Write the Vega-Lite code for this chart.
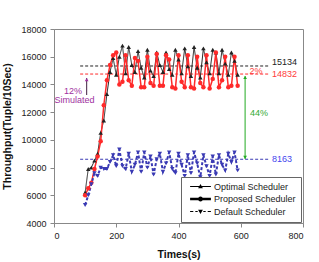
{
  "$schema": "https://vega.github.io/schema/vega-lite/v6.json",
  "width": 249,
  "height": 194,
  "autosize": {"type": "none"},
  "padding": {"left": 54, "top": 29, "right": 16, "bottom": 39},
  "background": "white",
  "config": {
    "view": {"stroke": "#888", "strokeWidth": 1},
    "font": "Liberation Sans",
    "scale": {"zero": false},
    "axis": {
      "grid": false,
      "domainColor": "#888",
      "tickColor": "#888",
      "tickSize": 4,
      "labelFont": "Liberation Sans",
      "labelFontSize": 9,
      "labelColor": "#222",
      "labelPadding": 4,
      "labelOverlap": false,
      "titleFont": "Liberation Sans",
      "titleFontSize": 10.5,
      "titleFontWeight": "bold",
      "titleColor": "#111"
    },
    "axisY": {"tickCount": 8, "format": "d"},
    "axisX": {"tickCount": 5}
  },
  "datasets": {
    "main": [
      {"t": 100, "o": 6200, "p": 6000, "d": 5300},
      {"t": 110, "o": 7900, "p": 6500, "d": 6000},
      {"t": 120, "o": 8000, "p": 6900, "d": 6800},
      {"t": 130, "o": 8500, "p": 7900, "d": 7600},
      {"t": 140, "o": 9000, "p": 8800, "d": 7400},
      {"t": 150, "o": 10500, "p": 9900, "d": 8000},
      {"t": 160, "o": 11400, "p": 12500, "d": 7900},
      {"t": 170, "o": 13300, "p": 14300, "d": 7900},
      {"t": 180, "o": 14900, "p": 15400, "d": 8400},
      {"t": 190, "o": 15900, "p": 16100, "d": 8900},
      {"t": 200, "o": 14700, "p": 16300, "d": 8100},
      {"t": 210, "o": 16000, "p": 14000, "d": 9300},
      {"t": 220, "o": 16800, "p": 14200, "d": 8100},
      {"t": 230, "o": 14800, "p": 16100, "d": 7900},
      {"t": 240, "o": 16700, "p": 14300, "d": 9000},
      {"t": 250, "o": 15400, "p": 13900, "d": 7700},
      {"t": 260, "o": 14900, "p": 15900, "d": 8200},
      {"t": 270, "o": 16400, "p": 15700, "d": 9100},
      {"t": 280, "o": 15200, "p": 13800, "d": 7700},
      {"t": 290, "o": 14500, "p": 13800, "d": 9100},
      {"t": 300, "o": 16500, "p": 16000, "d": 8000},
      {"t": 310, "o": 15000, "p": 14100, "d": 8800},
      {"t": 320, "o": 14600, "p": 13900, "d": 7500},
      {"t": 330, "o": 16300, "p": 16200, "d": 8600},
      {"t": 340, "o": 15400, "p": 13900, "d": 9000},
      {"t": 350, "o": 14900, "p": 13900, "d": 7700},
      {"t": 360, "o": 16300, "p": 16100, "d": 8300},
      {"t": 370, "o": 15100, "p": 15800, "d": 9100},
      {"t": 380, "o": 14700, "p": 13800, "d": 7900},
      {"t": 390, "o": 16500, "p": 13700, "d": 7600},
      {"t": 400, "o": 15800, "p": 16100, "d": 9000},
      {"t": 410, "o": 14800, "p": 14200, "d": 8200},
      {"t": 420, "o": 16600, "p": 13800, "d": 7400},
      {"t": 430, "o": 15300, "p": 16100, "d": 8900},
      {"t": 440, "o": 14600, "p": 13800, "d": 7600},
      {"t": 450, "o": 16700, "p": 13700, "d": 9100},
      {"t": 460, "o": 15200, "p": 16000, "d": 8300},
      {"t": 470, "o": 14500, "p": 14100, "d": 7300},
      {"t": 480, "o": 16600, "p": 13800, "d": 8900},
      {"t": 490, "o": 15600, "p": 16100, "d": 8100},
      {"t": 500, "o": 14800, "p": 13700, "d": 7400},
      {"t": 510, "o": 16500, "p": 14400, "d": 8800},
      {"t": 520, "o": 16300, "p": 16300, "d": 7500},
      {"t": 530, "o": 14800, "p": 13800, "d": 8900},
      {"t": 540, "o": 16500, "p": 14300, "d": 8200},
      {"t": 550, "o": 15500, "p": 16000, "d": 7800},
      {"t": 560, "o": 14700, "p": 13800, "d": 9000},
      {"t": 570, "o": 16300, "p": 13900, "d": 8400},
      {"t": 580, "o": 15700, "p": 16000, "d": 9100},
      {"t": 590, "o": 14700, "p": 13900, "d": 7800}
    ]
  },
  "layer": [
    {
      "data": {"values": [
        {"k": "o", "v": 15330, "t": 84, "t2": 690},
        {"k": "p", "v": 14750, "t": 84, "t2": 690},
        {"k": "d", "v": 8600, "t": 84, "t2": 690}
      ]},
      "mark": {"type": "rule", "strokeDash": [3, 2], "strokeWidth": 1},
      "encoding": {
        "x": {"field": "t", "type": "quantitative", "title": "Times(s)",
              "scale": {"domain": [0, 800], "nice": false},
              "axis": {"values": [0, 200, 400, 600, 800], "tickCount": 5, "titlePadding": 9, "labelOverlap": false}},
        "x2": {"field": "t2"},
        "y": {"field": "v", "type": "quantitative", "title": "Throughput(Tuple/10Sec)",
              "scale": {"domain": [4000, 18000], "nice": false},
              "axis": {"values": [4000, 6000, 8000, 10000, 12000, 14000, 16000, 18000], "tickCount": 8, "format": "d", "titlePadding": 8, "labelOverlap": false}},
        "color": {"field": "k", "type": "nominal", "legend": null,
                  "scale": {"domain": ["o", "p", "d"], "range": ["#222222", "#ff2a2a", "#3a3ab4"]}}
      }
    },
    {
      "data": {"name": "main"},
      "transform": [{"fold": ["o", "p", "d"], "as": ["k", "v"]}],
      "mark": {"type": "line"},
      "encoding": {
        "x": {"field": "t", "type": "quantitative", "title": "Times(s)",
              "scale": {"domain": [0, 800], "nice": false},
              "axis": {"values": [0, 200, 400, 600, 800], "tickCount": 5, "titlePadding": 9, "labelOverlap": false}},
        "y": {"field": "v", "type": "quantitative", "title": "Throughput(Tuple/10Sec)",
              "scale": {"domain": [4000, 18000], "nice": false},
              "axis": {"values": [4000, 6000, 8000, 10000, 12000, 14000, 16000, 18000], "tickCount": 8, "format": "d", "titlePadding": 8, "labelOverlap": false}},
        "color": {"field": "k", "type": "nominal", "legend": null,
                  "scale": {"domain": ["o", "p", "d"], "range": ["#222222", "#ff2a2a", "#3a3ab4"]}},
        "strokeWidth": {"field": "k", "type": "nominal", "legend": null,
                  "scale": {"domain": ["o", "p", "d"], "range": [1, 2, 1]}},
        "strokeDash": {"field": "k", "type": "nominal", "legend": null,
                  "scale": {"domain": ["o", "p", "d"], "range": [[1, 0], [1, 0], [3, 2]]}}
      }
    },
    {
      "data": {"name": "main"},
      "transform": [{"fold": ["o", "p", "d"], "as": ["k", "v"]}],
      "mark": {"type": "point", "filled": true, "size": 20, "opacity": 1},
      "encoding": {
        "x": {"field": "t", "type": "quantitative", "scale": {"domain": [0, 800]}},
        "y": {"field": "v", "type": "quantitative", "scale": {"domain": [4000, 18000]}},
        "color": {"field": "k", "type": "nominal", "legend": null},
        "shape": {"field": "k", "type": "nominal", "legend": null,
                  "scale": {"domain": ["o", "p", "d"], "range": ["triangle-up", "circle", "triangle-down"]}}
      }
    },
    {
      "data": {"values": [{"t": 700, "v": 15619, "label": "15134"}]},
      "mark": {"type": "text", "align": "left", "baseline": "middle", "fontSize": 9, "color": "#222"},
      "encoding": {"x": {"field": "t", "type": "quantitative", "scale": {"domain": [0, 800]}}, "y": {"field": "v", "type": "quantitative", "scale": {"domain": [4000, 18000]}}, "text": {"field": "label"}}
    },
    {
      "data": {"values": [{"t": 700, "v": 14753, "label": "14832"}]},
      "mark": {"type": "text", "align": "left", "baseline": "middle", "fontSize": 9, "color": "#ff3b3b"},
      "encoding": {"x": {"field": "t", "type": "quantitative", "scale": {"domain": [0, 800]}}, "y": {"field": "v", "type": "quantitative", "scale": {"domain": [4000, 18000]}}, "text": {"field": "label"}}
    },
    {
      "data": {"values": [{"t": 649, "v": 14990, "label": "2%"}]},
      "mark": {"type": "text", "align": "center", "baseline": "middle", "fontSize": 9, "color": "#ff3b3b"},
      "encoding": {"x": {"field": "t", "type": "quantitative", "scale": {"domain": [0, 800]}}, "y": {"field": "v", "type": "quantitative", "scale": {"domain": [4000, 18000]}}, "text": {"field": "label"}}
    },
    {
      "data": {"values": [{"t": 700, "v": 8619, "label": "8163"}]},
      "mark": {"type": "text", "align": "left", "baseline": "middle", "fontSize": 9, "color": "#4444ee"},
      "encoding": {"x": {"field": "t", "type": "quantitative", "scale": {"domain": [0, 800]}}, "y": {"field": "v", "type": "quantitative", "scale": {"domain": [4000, 18000]}}, "text": {"field": "label"}}
    },
    {
      "data": {"values": [{"t": 659, "v": 11938, "label": "44%"}]},
      "mark": {"type": "text", "align": "center", "baseline": "middle", "fontSize": 9, "color": "#33aa33"},
      "encoding": {"x": {"field": "t", "type": "quantitative", "scale": {"domain": [0, 800]}}, "y": {"field": "v", "type": "quantitative", "scale": {"domain": [4000, 18000]}}, "text": {"field": "label"}}
    },
    {
      "data": {"values": [{"t": 61, "v": 13540, "label": "12%"}, {"t": 66, "v": 12870, "label": "Simulated"}]},
      "mark": {"type": "text", "align": "center", "baseline": "middle", "fontSize": 9, "color": "#a030a0"},
      "encoding": {"x": {"field": "t", "type": "quantitative", "scale": {"domain": [0, 800]}}, "y": {"field": "v", "type": "quantitative", "scale": {"domain": [4000, 18000]}}, "text": {"field": "label"}}
    },
    {
      "data": {"values": [{"t": 614, "v": 8619, "v2": 14610}]},
      "mark": {"type": "rule", "color": "#22aa22", "strokeWidth": 1},
      "encoding": {"x": {"field": "t", "type": "quantitative", "scale": {"domain": [0, 800]}}, "y": {"field": "v", "type": "quantitative", "scale": {"domain": [4000, 18000]}}, "y2": {"field": "v2"}}
    },
    {
      "data": {"values": [{"t": 614, "v": 14500}]},
      "mark": {"type": "point", "shape": "triangle-up", "filled": true, "size": 14, "color": "#22aa22", "opacity": 1},
      "encoding": {"x": {"field": "t", "type": "quantitative", "scale": {"domain": [0, 800]}}, "y": {"field": "v", "type": "quantitative", "scale": {"domain": [4000, 18000]}}}
    },
    {
      "data": {"values": [{"t": 614, "v": 8730}]},
      "mark": {"type": "point", "shape": "triangle-down", "filled": true, "size": 14, "color": "#22aa22", "opacity": 1},
      "encoding": {"x": {"field": "t", "type": "quantitative", "scale": {"domain": [0, 800]}}, "y": {"field": "v", "type": "quantitative", "scale": {"domain": [4000, 18000]}}}
    },
    {
      "data": {"values": [{"t": 105, "v": 13237, "v2": 14464}]},
      "mark": {"type": "rule", "color": "#402040", "strokeWidth": 1},
      "encoding": {"x": {"field": "t", "type": "quantitative", "scale": {"domain": [0, 800]}}, "y": {"field": "v", "type": "quantitative", "scale": {"domain": [4000, 18000]}}, "y2": {"field": "v2"}}
    },
    {
      "data": {"values": [{"t": 105, "v": 14350}]},
      "mark": {"type": "point", "shape": "triangle-up", "filled": true, "size": 14, "color": "#a030a0", "opacity": 1},
      "encoding": {"x": {"field": "t", "type": "quantitative", "scale": {"domain": [0, 800]}}, "y": {"field": "v", "type": "quantitative", "scale": {"domain": [4000, 18000]}}}
    },
    {
      "data": {"name": "main"},
      "transform": [{"fold": ["o", "p", "d"], "as": ["k", "v"]}, {"filter": "datum.v < 0"}],
      "mark": {"type": "point", "filled": true},
      "encoding": {
        "x": {"field": "t", "type": "quantitative", "scale": {"domain": [0, 800]}},
        "y": {"field": "v", "type": "quantitative", "scale": {"domain": [4000, 18000]}},
        "fill": {"field": "k", "type": "nominal",
                 "scale": {"domain": ["o", "p", "d"], "range": ["#222222", "#ff2a2a", "#3a3ab4"]},
                 "legend": {
                   "orient": "none", "legendX": 127, "legendY": 148, "title": null,
                   "labelExpr": "{'o': 'Optimal Scheduler', 'p': 'Proposed Scheduler', 'd': 'Default Scheduler'}[datum.label]",
                   "labelFont": "Liberation Sans", "labelFontSize": 9, "labelColor": "#222",
                   "symbolSize": 64, "symbolStrokeWidth": 0, "symbolOpacity": 1,
                   "symbolOffset": 10, "labelOffset": 9,
                   "padding": 5, "rowPadding": 2.5,
                   "strokeColor": "#666", "fillColor": "white"
                 }},
        "shape": {"field": "k", "type": "nominal",
                 "scale": {"domain": ["o", "p", "d"], "range": [
                   "M-2.6,-0.13H2.6V0.13H-2.6ZM-0.6,0.45L0,-0.6L0.6,0.45Z",
                   "M-2.6,-0.3H2.6V0.3H-2.6ZM0.62,0A0.62,0.62,0,1,1,-0.62,0A0.62,0.62,0,1,1,0.62,0Z",
                   "M-2.6,-0.13H-1.8V0.13H-2.6ZM-1.3,-0.13H-0.7V0.13H-1.3ZM0.7,-0.13H1.3V0.13H0.7ZM1.8,-0.13H2.6V0.13H1.8ZM-0.6,-0.45L0.6,-0.45L0,0.6Z"
                 ]},
                 "legend": {
                   "orient": "none", "legendX": 127, "legendY": 148, "title": null,
                   "labelExpr": "{'o': 'Optimal Scheduler', 'p': 'Proposed Scheduler', 'd': 'Default Scheduler'}[datum.label]",
                   "labelFont": "Liberation Sans", "labelFontSize": 9, "labelColor": "#222",
                   "symbolSize": 64, "symbolStrokeWidth": 0, "symbolOpacity": 1,
                   "symbolOffset": 10, "labelOffset": 9,
                   "padding": 5, "rowPadding": 2.5,
                   "strokeColor": "#666", "fillColor": "white"
                 }}
      }
    }
  ],
  "resolve": {"scale": {"shape": "independent"}}
}
